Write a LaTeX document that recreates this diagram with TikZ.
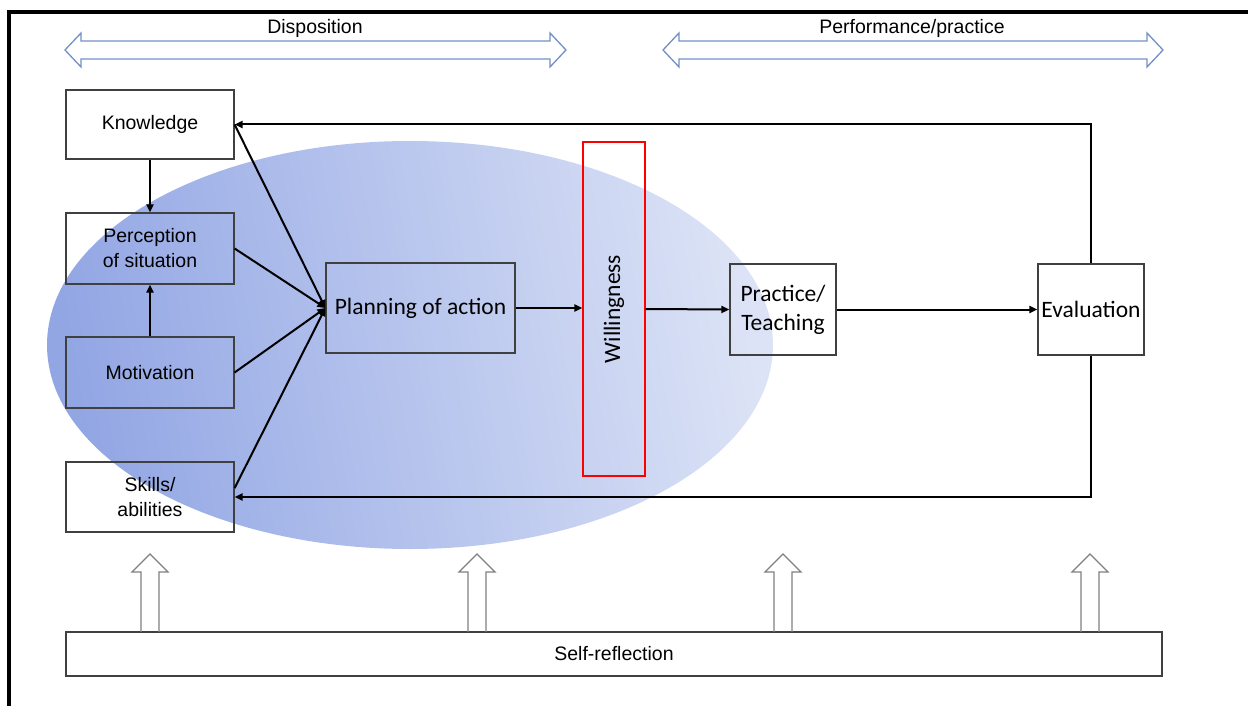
\documentclass[tikz,border=0pt]{standalone}
\usepackage{graphicx}
\usepackage{fontspec}
\setmainfont{Liberation Sans}
\newfontfamily\calibri{Carlito}
\usetikzlibrary{arrows.meta}
\definecolor{boxgray}{RGB}{64,64,64}
\definecolor{spanblue}{RGB}{114,144,199}
\definecolor{blobdark}{RGB}{146,166,228}
\definecolor{bloblight}{RGB}{220,227,246}
\tikzset{
	boxA/.style={
		draw=boxgray, line width=1.2pt, inner sep=0pt, align=center,
		font={\fontsize{19.5}{25}\selectfont}
	},
	boxB/.style={boxA, font={\calibri\fontsize{23.5}{29}\selectfont}},
	linkA/.style={-{Triangle[length=8pt,width=7pt]}, line width=2pt},
	blockA/.style={draw=gray, line width=1.3pt},
	spanA/.style={draw=spanblue, line width=1.3pt},
	>=stealth,
}
\begin{document}
\begin{tikzpicture}[x=1pt, y=-1pt]
\useasboundingbox (0,0) rectangle (1248,706);
% shaded disposition area
\shade[left color=blobdark, right color=bloblight, shading angle=100] (410,345) ellipse [x radius=363pt, y radius=204pt];
\draw[line width=4.5pt] (9,706) -- (9,12) -- (1248,12);
% span arrows on top
\foreach \xa/\xb in {65/566, 663/1163}
	\draw[spanA] (\xa,50) -- (\xa+16,33) -- (\xa+16,41) -- (\xb-16,41) -- (\xb-16,33)
		-- (\xb,50) -- (\xb-16,67) -- (\xb-16,59) -- (\xa+16,59) -- (\xa+16,67) -- cycle;
\node[font={\fontsize{19.5}{25}\selectfont}] (disp) at (315,28) {Disposition};
\node[font={\fontsize{19.5}{25}\selectfont}] (perf) at (912,28) {Performance/practice};

\node[boxA, minimum width=168, minimum height=69] (knowledge) at (150,124.5) {Knowledge};
\node[boxA, minimum width=168, minimum height=71] (perception) at (150,248.5) {Perception\\of situation};
\node[boxA, minimum width=168, minimum height=71] (motivation) at (150,372.5) {Motivation};
\node[boxA, minimum width=168, minimum height=70] (skills) at (150,497) {Skills/\\abilities};
\node[boxB, minimum width=189, minimum height=90] (planning) at (420.5,308) {Planning of action};
\node[boxB, draw=red, minimum width=62, minimum height=334] (willingness) at (614,309) {\rotatebox{90}{Willingness}};
\node[boxB, minimum width=106, minimum height=91] (practice) at (783,309.5) {Practice/\\Teaching};
\node[boxB, minimum width=106, minimum height=91] (evaluation) at (1091,309.5) {Evaluation};
\node[boxA, minimum width=1096, minimum height=44] (selfref) at (614,654) {Self-reflection};

% hollow arrows from self-reflection
\foreach \bx in {150,477,783,1090}
	\draw[blockA] (\bx-9,632) -- (\bx-9,572) -- (\bx-18,572) -- (\bx,554)
		-- (\bx+18,572) -- (\bx+9,572) -- (\bx+9,632);

\draw[linkA] (knowledge) -- (perception);
\draw[linkA] (motivation) -- (perception);
\draw[linkA] (knowledge.east) -- (planning.west);
\draw[linkA] (perception.east) -- (planning.west);
\draw[linkA] (motivation.east) -- (planning.west);
\draw[linkA] (skills.6) -- (planning.west);
\draw[linkA] (planning.east) -- (willingness.west |- planning.east);
\draw[linkA] (willingness.east) -- (practice.west);
\draw[linkA] (practice) -- (evaluation);
\draw[linkA] (evaluation.north) |- (knowledge.east);
\draw[linkA] (evaluation.south) |- (skills.east);
\end{tikzpicture}
\end{document}
